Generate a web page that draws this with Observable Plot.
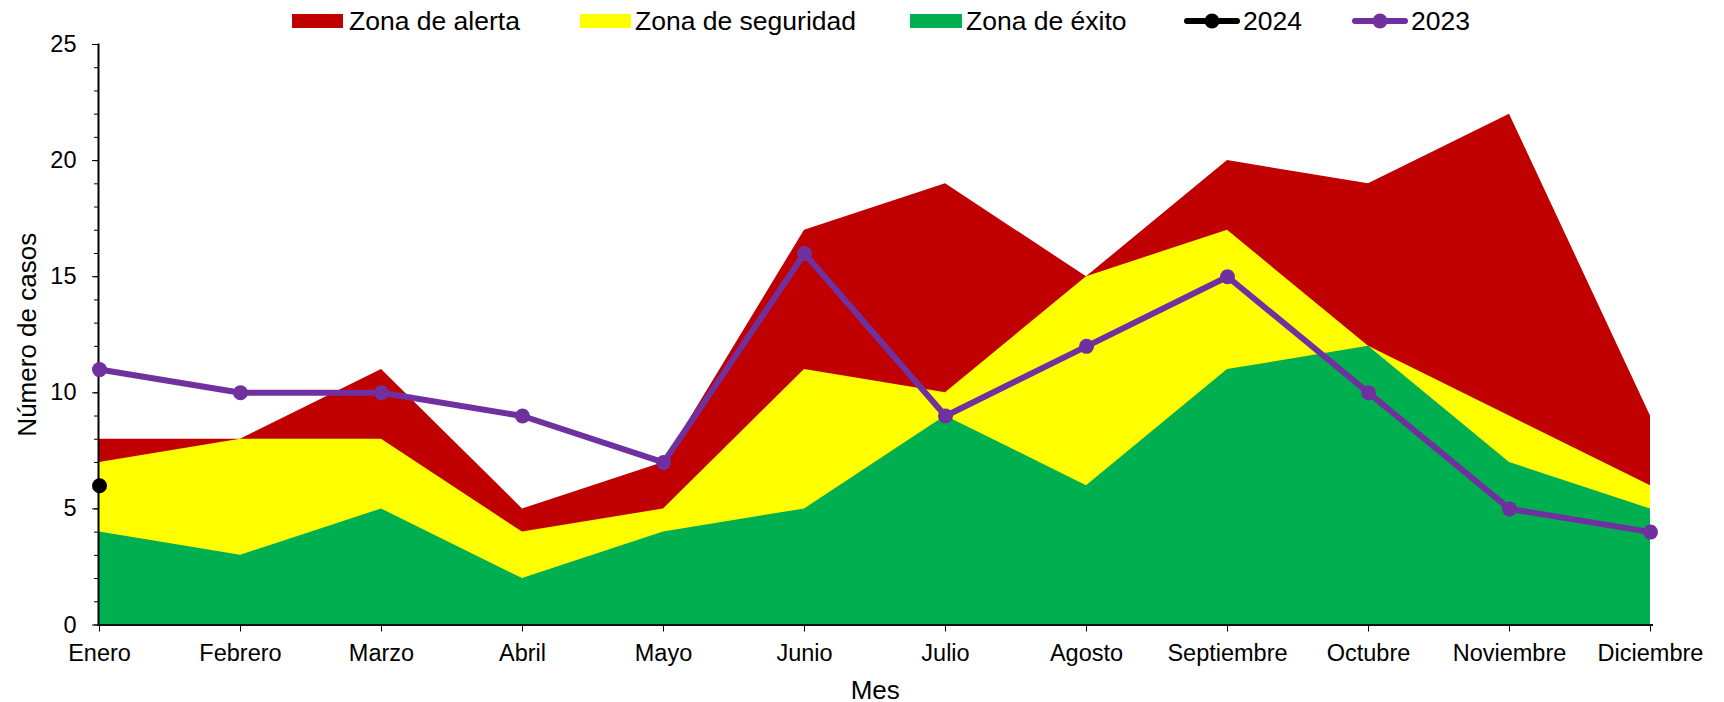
<!DOCTYPE html>
<html>
<head>
<meta charset="utf-8">
<script src="https://cdn.jsdelivr.net/npm/d3@7"></script>
<script src="https://cdn.jsdelivr.net/npm/@observablehq/plot@0.6"></script>
<style>
  html, body { margin: 0; padding: 0; background: #fff; }
  body { width: 1724px; height: 702px; overflow: hidden; font-family: "Liberation Sans", Arial, sans-serif; color: #000; }
  #legend { position: relative; width: 1724px; height: 30px; z-index: 1; }
  .sw { position: absolute; }
  .lt { position: absolute; top: 6px; height: 30px; line-height: 30px; font-size: 26.5px; white-space: nowrap; }
  #chart { position: relative; }
</style>
</head>
<body>
<div id="legend"></div>
<div id="chart"></div>
<script>
// ---- data ----
const months = ["Enero","Febrero","Marzo","Abril","Mayo","Junio","Julio","Agosto","Septiembre","Octubre","Noviembre","Diciembre"];
const alerta    = [8, 8, 11, 5, 7, 17, 19, 15, 20, 19, 22, 9];
const seguridad = [7, 8, 8, 4, 5, 11, 10, 15, 17, 12, 9, 6];
const exito     = [4, 3, 5, 2, 4, 5, 9, 6, 11, 12, 7, 5];
const y2023     = [11, 10, 10, 9, 7, 16, 9, 12, 15, 10, 5, 4];
const y2024     = [6];
const yTicks    = [0, 5, 10, 15, 20, 25];
const legendLabels = ["Zona de alerta", "Zona de seguridad", "Zona de éxito", "2024", "2023"];

const colors = { alerta: "#C00000", seguridad: "#FFFF00", exito: "#00B050", y2024: "#000000", y2023: "#7030A0" };

const data = months.map((m, i) => ({ month: m, alerta: alerta[i], seguridad: seguridad[i], exito: exito[i], v2023: y2023[i] }));
const d2024 = y2024.map((v, i) => ({ month: months[i], v }));

// ---- legend (HTML, above the SVG) ----
const legendLayout = [
  { kind: "rect", color: colors.alerta,    swLeft: 292,  swWidth: 51, textLeft: 349 },
  { kind: "rect", color: colors.seguridad, swLeft: 580,  swWidth: 51, textLeft: 635 },
  { kind: "rect", color: colors.exito,     swLeft: 910,  swWidth: 52, textLeft: 966 },
  { kind: "line", color: colors.y2024,     swLeft: 1184, swWidth: 56, textLeft: 1243 },
  { kind: "line", color: colors.y2023,     swLeft: 1352, swWidth: 56, textLeft: 1411 }
];
const legend = document.getElementById("legend");
legendLayout.forEach((it, i) => {
  if (it.kind === "rect") {
    const s = document.createElement("div");
    s.className = "sw";
    s.style.cssText = `left:${it.swLeft}px;top:14px;width:${it.swWidth}px;height:14px;background:${it.color};`;
    legend.appendChild(s);
  } else {
    const ns = "http://www.w3.org/2000/svg";
    const svg = document.createElementNS(ns, "svg");
    svg.setAttribute("class", "sw");
    svg.setAttribute("width", it.swWidth);
    svg.setAttribute("height", 20);
    svg.style.cssText = `left:${it.swLeft}px;top:11px;overflow:visible;`;
    const ln = document.createElementNS(ns, "line");
    ln.setAttribute("x1", 3); ln.setAttribute("x2", it.swWidth - 3);
    ln.setAttribute("y1", 10); ln.setAttribute("y2", 10);
    ln.setAttribute("stroke", it.color); ln.setAttribute("stroke-width", 6);
    ln.setAttribute("stroke-linecap", "round");
    const c = document.createElementNS(ns, "circle");
    c.setAttribute("cx", it.swWidth / 2); c.setAttribute("cy", 10); c.setAttribute("r", 7.5);
    c.setAttribute("fill", it.color);
    svg.appendChild(ln); svg.appendChild(c);
    legend.appendChild(svg);
  }
  const t = document.createElement("div");
  t.className = "lt";
  t.style.left = it.textLeft + "px";
  t.textContent = legendLabels[i];
  legend.appendChild(t);
});

// ---- chart ----
const chart = Plot.plot({
  width: 1724,
  height: 672,
  marginLeft: 98,
  marginRight: 72.5,
  marginTop: 14,
  marginBottom: 77.5,
  style: { fontFamily: '"Liberation Sans", Arial, sans-serif', fontSize: "23.5px", color: "#000", background: "transparent", overflow: "visible" },
  x: { type: "point", domain: months, padding: 0 },
  y: { domain: [0, 25] },
  marks: [
    Plot.areaY(data, { x: "month", y1: 0, y2: "alerta", fill: colors.alerta }),
    Plot.areaY(data, { x: "month", y1: 0, y2: "seguridad", fill: colors.seguridad }),
    Plot.areaY(data, { x: "month", y1: 0, y2: "exito", fill: colors.exito }),
    Plot.axisY({ ticks: d3.range(yTicks[0], yTicks[yTicks.length - 1] + 1), tickSize: 4, text: null, label: null }),
    Plot.axisY({ ticks: yTicks, tickSize: 6, tickPadding: 16, label: null }),
    Plot.axisX({ tickSize: 7, tickPadding: 12, label: null }),
    Plot.frame({ anchor: "left", strokeWidth: 2, stroke: "#000" }),
    Plot.frame({ anchor: "bottom", strokeWidth: 2, stroke: "#111" }),
    Plot.text(["Mes"], { text: d => d, frameAnchor: "bottom", dy: 66, lineAnchor: "middle", fontSize: 26 }),
    Plot.text(["Número de casos"], { text: d => d, frameAnchor: "left", textAnchor: "middle", lineAnchor: "middle", dx: -70.5, rotate: -90, fontSize: 26 }),
    Plot.line(data, { x: "month", y: "v2023", stroke: colors.y2023, strokeWidth: 6, strokeLinejoin: "round" }),
    Plot.dot(data, { x: "month", y: "v2023", r: 7.5, fill: colors.y2023 }),
    Plot.dot(d2024, { x: "month", y: "v", r: 7.5, fill: colors.y2024 })
  ]
});
document.getElementById("chart").appendChild(chart);
</script>
</body>
</html>
